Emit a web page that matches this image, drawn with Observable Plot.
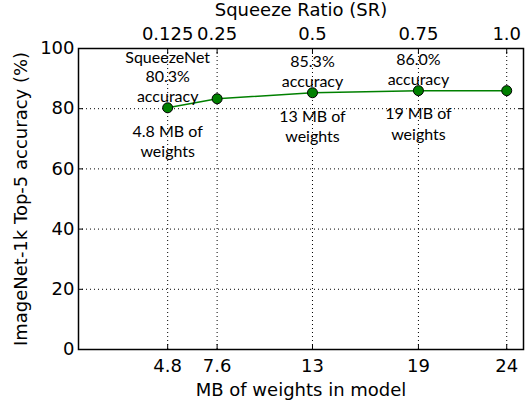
<!DOCTYPE html>
<html>
<head>
<meta charset="utf-8">
<script src="https://cdn.jsdelivr.net/npm/d3@7"></script>
<script src="https://cdn.jsdelivr.net/npm/@observablehq/plot@0.6"></script>
<style>
  html, body { margin: 0; padding: 0; background: #fff; }
  #chart svg { display: block; }
</style>
</head>
<body>
<div id="chart"></div>
<script>
// Data
const modelMB = [4.8, 7.6, 13, 19, 24];
const squeezeRatio = ["0.125", "0.25", "0.5", "0.75", "1.0"];
const accuracy = [80.3, 83.3, 85.3, 86.0, 86.0];
const yTicks = [0, 20, 40, 60, 80, 100];
const yGrid = [20, 40, 60, 80];
const noteMB = [4.8, 13, 19];
const noteAcc = [80.3, 85.3, 86.0];
const noteAbove = ["SqueezeNet\n80.3%\naccuracy", "85.3%\naccuracy", "86.0%\naccuracy"];
const noteBelow = ["4.8 MB of\nweights", "13 MB of\nweights", "19 MB of\nweights"];

const points = modelMB.map((mb, i) => ({mb, acc: accuracy[i]}));
const notes = noteMB.map((mb, i) => ({mb, acc: noteAcc[i], above: noteAbove[i], below: noteBelow[i]}));

const axisFont = "DejaVu Sans";
const noteFont = "Lato";

const chart = Plot.plot({
  width: 529,
  height: 402,
  marginLeft: 78,
  marginRight: 6,
  marginTop: 48,
  marginBottom: 53,
  style: {fontFamily: axisFont, fontSize: "18px", color: "black", background: "white"},
  x: {domain: [-0.25, 24.95]},
  y: {domain: [0, 100]},
  marks: [
    Plot.gridX(modelMB, {stroke: "black", strokeOpacity: 1, strokeWidth: 1, strokeDasharray: "1,3"}),
    Plot.gridY(yGrid, {stroke: "black", strokeOpacity: 1, strokeWidth: 1, strokeDasharray: "1,3"}),
    Plot.axisX(modelMB, {anchor: "bottom", tickFormat: d => String(d), tickSize: 5, inset: 5, tickPadding: 10,
      label: "MB of weights in model", labelAnchor: "center", labelArrow: "none", labelOffset: 46, fontSize: 18}),
    Plot.axisX(modelMB, {anchor: "top", tickFormat: d => squeezeRatio[modelMB.indexOf(d)], tickSize: 5, inset: 5, tickPadding: 9,
      label: "Squeeze Ratio (SR)", labelAnchor: "center", labelArrow: "none", labelOffset: 45, fontSize: 18}),
    Plot.axisY(yTicks, {anchor: "left", tickFormat: d => String(d), tickSize: 5, inset: 5, tickPadding: 4,
      label: "ImageNet-1k Top-5 accuracy (%)", labelAnchor: "center", labelArrow: "none", labelOffset: 64, fontSize: 18}),
    Plot.axisY(yTicks, {anchor: "right", tickFormat: () => "", tickSize: 5, inset: 5, label: null}),
    Plot.frame({stroke: "black", strokeWidth: 1.5}),
    Plot.line(points, {x: "mb", y: "acc", stroke: "#008000", strokeWidth: 1.5}),
    Plot.dot(points, {x: "mb", y: "acc", r: 5, fill: "#008000", stroke: "black", strokeWidth: 1}),
    Plot.text(notes, {x: "mb", y: "acc", text: "above", lineAnchor: "bottom", dy: -6, lineHeight: 1.22,
      fontFamily: noteFont, fontSize: 16, fill: "black"}),
    Plot.text(notes, {x: "mb", y: "acc", text: "below", lineAnchor: "top", dy: 14, lineHeight: 1.3,
      fontFamily: noteFont, fontSize: 16, fill: "black"})
  ]
});
document.getElementById("chart").appendChild(chart);
</script>
</body>
</html>
